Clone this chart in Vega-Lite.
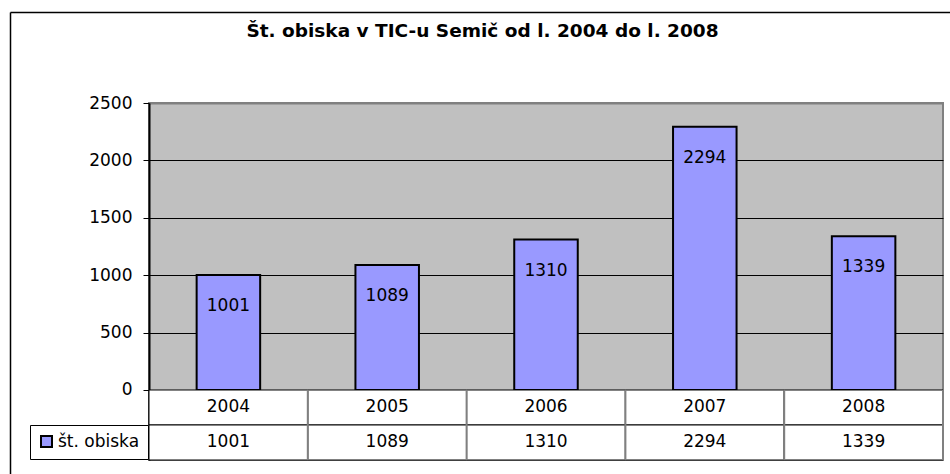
{
  "$schema": "https://vega.github.io/schema/vega-lite/v6.json",
  "width": 794,
  "height": 357,
  "autosize": {"type": "none"},
  "padding": {"left": 149, "top": 103, "right": 7, "bottom": 14},
  "background": "white",
  "config": {
    "view": {"fill": "#C0C0C0", "stroke": "#808080", "strokeWidth": 2},
    "font": "DejaVu Sans"
  },
  "title": {
    "text": "Št. obiska v TIC-u Semič od l. 2004 do l. 2008",
    "font": "DejaVu Sans",
    "fontSize": 18.5,
    "fontWeight": "bold",
    "color": "black",
    "anchor": "middle",
    "frame": "group",
    "dx": -63.5,
    "baseline": "alphabetic",
    "offset": -43.5
  },
  "data": {
    "values": [
      {"year": "2004", "value": 1001, "series": "št. obiska"},
      {"year": "2005", "value": 1089, "series": "št. obiska"},
      {"year": "2006", "value": 1310, "series": "št. obiska"},
      {"year": "2007", "value": 2294, "series": "št. obiska"},
      {"year": "2008", "value": 1339, "series": "št. obiska"}
    ]
  },
  "layer": [
    {
      "encoding": {
        "x": {"field": "year", "type": "nominal", "scale": {"paddingInner": 0, "paddingOuter": 0}, "axis": null}
      },
      "layer": [
        {
          "mark": {"type": "bar", "width": {"band": 0.4}, "stroke": "black", "strokeWidth": 2},
          "encoding": {
            "y": {
              "field": "value",
              "type": "quantitative",
              "scale": {"domain": [-609.76, 2500], "nice": false},
              "axis": {
                "values": [0, 500, 1000, 1500, 2000, 2500],
                "format": "d",
                "title": null,
                "labelFontSize": 17,
                "labelFont": "DejaVu Sans",
                "labelColor": "black",
                "tickSize": 6,
                "tickColor": "black",
                "tickWidth": 1,
                "labelPadding": 11,
                "domainColor": "black",
                "domainWidth": 2,
                "grid": true,
                "gridColor": {"condition": {"test": "datum.value === 2500", "value": "#808080"}, "value": "black"},
                "gridWidth": {"condition": {"test": "datum.value === 2500", "value": 2}, "value": 1},
                "gridOpacity": 1
              }
            },
            "color": {
              "field": "series",
              "type": "nominal",
              "scale": {"range": ["#9999FF"]},
              "legend": {
                "orient": "none",
                "legendX": -119,
                "legendY": 322,
                "title": null,
                "strokeColor": "black",
                "fillColor": "white",
                "padding": 8,
                "symbolType": "square",
                "symbolSize": 121,
                "symbolStrokeColor": "black",
                "symbolStrokeWidth": 2,
                "symbolOpacity": 1,
                "labelFontSize": 17,
                "labelFont": "DejaVu Sans",
                "labelColor": "black",
                "labelOffset": 3
              }
            }
          }
        },
        {
          "mark": {"type": "text", "dy": 31, "fontSize": 17, "baseline": "middle", "color": "black"},
          "encoding": {
            "y": {"field": "value", "type": "quantitative"},
            "text": {"field": "value", "type": "quantitative", "format": "d"}
          }
        },
        {
          "mark": {"type": "rect", "fill": "white", "stroke": "black", "strokeWidth": 1},
          "encoding": {"y": {"datum": 0}, "y2": {"datum": -304.88}}
        },
        {
          "mark": {"type": "rect", "fill": "white", "stroke": "black", "strokeWidth": 1},
          "encoding": {"y": {"datum": -304.88}, "y2": {"datum": -609.76}}
        },
        {
          "transform": [{"filter": "datum.year != '2004'"}],
          "mark": {"type": "rule", "color": "#808080", "strokeWidth": 2},
          "encoding": {
            "x": {"field": "year", "type": "nominal", "bandPosition": 0},
            "y": {"datum": 0},
            "y2": {"datum": -609.76}
          }
        },
        {
          "transform": [{"filter": "datum.year == '2008'"}],
          "mark": {"type": "rule", "color": "#808080", "strokeWidth": 2},
          "encoding": {
            "x": {"field": "year", "type": "nominal", "bandPosition": 1},
            "y": {"datum": 0},
            "y2": {"datum": -609.76}
          }
        },
        {
          "mark": {"type": "text", "fontSize": 17, "baseline": "middle", "color": "black"},
          "encoding": {"y": {"datum": -152.44}, "text": {"field": "year", "type": "nominal"}}
        },
        {
          "mark": {"type": "text", "fontSize": 17, "baseline": "middle", "color": "black"},
          "encoding": {"y": {"datum": -457.32}, "text": {"field": "value", "type": "quantitative", "format": "d"}}
        }
      ]
    },
    {
      "data": {"values": [{"fx": 0, "fy": 0}]},
      "mark": {"type": "point", "opacity": 0},
      "encoding": {
        "x": {
          "field": "fx",
          "type": "quantitative",
          "scale": {"domain": [0, 1], "range": [-139, 900], "nice": false, "zero": false},
          "axis": {"orient": "top", "offset": 91, "labels": false, "ticks": false, "grid": false, "title": null, "domainColor": "black", "domainWidth": 1.5}
        },
        "y": {
          "field": "fy",
          "type": "quantitative",
          "scale": {"domain": [0, 1], "range": [420, -91], "nice": false, "zero": false},
          "axis": {"orient": "left", "offset": 139, "labels": false, "ticks": false, "grid": false, "title": null, "domainColor": "black", "domainWidth": 1.5}
        }
      }
    }
  ],
  "resolve": {"scale": {"x": "independent", "y": "independent"}}
}
